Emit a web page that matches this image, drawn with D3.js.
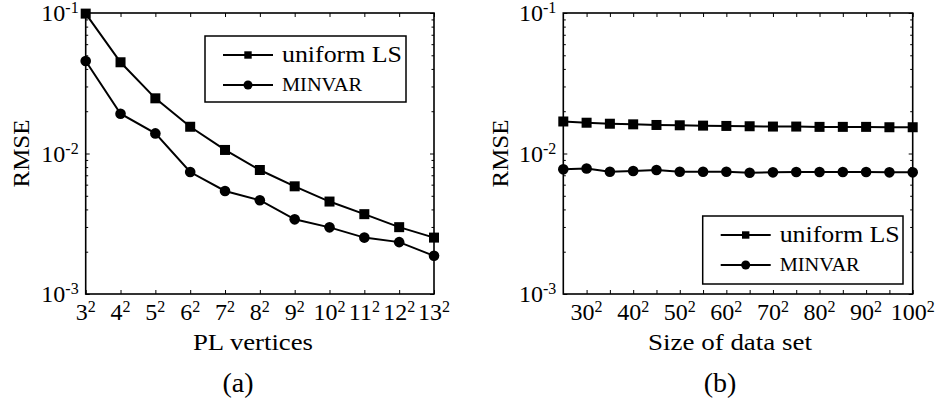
<!DOCTYPE html>
<html>
<head>
<meta charset="utf-8">
<script src="https://cdnjs.cloudflare.com/ajax/libs/d3/7.8.5/d3.min.js"></script>
<style>
    body { margin: 0; background: #fff; }
</style>
</head>
<body>
<svg id="chart" width="946" height="409" font-family="'Liberation Serif', 'DejaVu Serif', serif"></svg>
<script>
// panel (a): RMSE against number of PL vertices (n^2)
var verticesN = [3, 4, 5, 6, 7, 8, 9, 10, 11, 12, 13];
var verticesUniformLS = [0.099, 0.0446, 0.0247, 0.0155, 0.0106, 0.00763, 0.00584, 0.00455, 0.0037, 0.00299, 0.00252];
var verticesMinvar = [0.0455, 0.0192, 0.0139, 0.00738, 0.00541, 0.00465, 0.0034, 0.00298, 0.00252, 0.00234, 0.00187];

// panel (b): RMSE against size of data set (n^2)
var sizeN = [25, 30, 35, 40, 45, 50, 55, 60, 65, 70, 75, 80, 85, 90, 95, 100];
var sizeUniformLS = [0.0169, 0.01656, 0.01629, 0.01613, 0.01596, 0.01588, 0.01579, 0.01571, 0.01563, 0.01555, 0.01555, 0.01547, 0.01547, 0.01547, 0.01538, 0.01538];
var sizeMinvar = [0.00771, 0.00783, 0.00742, 0.0075, 0.00763, 0.00742, 0.00742, 0.00742, 0.0073, 0.00734, 0.00738, 0.00738, 0.00738, 0.00738, 0.00734, 0.00734];

var yDecades = [-3, -2, -1];
var verticesTicks = [3, 4, 5, 6, 7, 8, 9, 10, 11, 12, 13];
var verticesTickLabels = ["3", "4", "5", "6", "7", "8", "9", "10", "11", "12", "13"];
var sizeTicks = [30, 35, 40, 45, 50, 55, 60, 65, 70, 75, 80, 85, 90, 95, 100];
var sizeTickLabels = [30, 40, 50, 60, 70, 80, 90, 100];
var legendNames = ["uniform LS", "MINVAR"];

var svg = d3.select("#chart");

var minorTicks = [];
yDecades.forEach(function(e) {
    if (e == -1) return;
    for (var k = 2; k <= 9; k++) minorTicks.push(k * Math.pow(10, e));
});

function supText(sel, base, sup) {
    sel.append("tspan").text(base);
    sel.append("tspan").attr("dy", -8).attr("font-size", 16).text(sup);
}

function drawPanel(p) {
    var x = d3.scaleLinear().domain(p.xDomain).range([p.left, p.right]);
    var y = d3.scaleLog().domain([1e-3, 1e-1]).range([p.bottom, p.top]);
    var g = svg.append("g");

    // ticks on all four sides, pointing inward
    g.append("g").attr("transform", "translate(0," + p.bottom + ")")
        .call(d3.axisBottom(x).tickValues(p.xTicks).tickSize(-4).tickFormat(""));
    g.append("g").attr("transform", "translate(0," + p.top + ")")
        .call(d3.axisTop(x).tickValues(p.xTicks).tickSize(-4).tickFormat(""));
    g.append("g").attr("transform", "translate(" + p.left + ",0)")
        .call(d3.axisLeft(y).tickValues(yDecades.map(function(e) { return Math.pow(10, e); })).tickSize(-4).tickFormat(""));
    g.append("g").attr("transform", "translate(" + p.right + ",0)")
        .call(d3.axisRight(y).tickValues(yDecades.map(function(e) { return Math.pow(10, e); })).tickSize(-4).tickFormat(""));
    g.append("g").attr("transform", "translate(" + p.left + ",0)")
        .call(d3.axisLeft(y).tickValues(minorTicks).tickSize(-2.5).tickFormat(""));
    g.append("g").attr("transform", "translate(" + p.right + ",0)")
        .call(d3.axisRight(y).tickValues(minorTicks).tickSize(-2.5).tickFormat(""));
    g.selectAll(".domain").remove();
    g.selectAll(".tick line").attr("stroke", "#000").attr("stroke-width", 1);

    g.append("rect")
        .attr("x", p.left).attr("y", p.top)
        .attr("width", p.right - p.left).attr("height", p.bottom - p.top)
        .attr("fill", "none").attr("stroke", "#000").attr("stroke-width", 1.6);

    // y tick labels 10^e
    yDecades.forEach(function(e) {
        var t = g.append("text")
            .attr("x", p.left - 7).attr("y", y(Math.pow(10, e)) + 8)
            .attr("text-anchor", "end").attr("font-size", 24);
        supText(t, "10", "" + e);
    });

    // x tick labels n^2
    p.xLabels.forEach(function(d) {
        var t = g.append("text")
            .attr("x", x(d.v)).attr("y", p.bottom + 26)
            .attr("text-anchor", "middle").attr("font-size", 24);
        supText(t, d.s, "2");
    });

    g.append("text")
        .attr("transform", "translate(" + p.yLabelX + "," + ((p.top + p.bottom) / 2) + ") rotate(-90)")
        .attr("text-anchor", "middle").attr("font-size", 24)
        .attr("textLength", 68).attr("lengthAdjust", "spacingAndGlyphs").text("RMSE");
    g.append("text")
        .attr("x", p.xLabelX).attr("y", 350)
        .attr("text-anchor", "middle").attr("font-size", 24)
        .attr("textLength", p.xLabelLen).attr("lengthAdjust", "spacingAndGlyphs").text(p.xLabel);
    g.append("text")
        .attr("x", p.capX).attr("y", 392)
        .attr("text-anchor", "middle").attr("font-size", 28).text(p.caption);

    var line = d3.line()
        .x(function(d) { return x(d[0]); })
        .y(function(d) { return y(d[1]); });

    var sq = d3.zip(p.xs, p.uniform);
    var ci = d3.zip(p.xs, p.minvar);

    g.append("path").datum(sq).attr("d", line)
        .attr("fill", "none").attr("stroke", "#000").attr("stroke-width", 2);
    g.append("path").datum(ci).attr("d", line)
        .attr("fill", "none").attr("stroke", "#000").attr("stroke-width", 2);

    g.selectAll(".sq").data(sq).enter().append("rect")
        .attr("x", function(d) { return x(d[0]) - 5; })
        .attr("y", function(d) { return y(d[1]) - 5; })
        .attr("width", 10).attr("height", 10).attr("fill", "#000");
    g.selectAll(".ci").data(ci).enter().append("circle")
        .attr("cx", function(d) { return x(d[0]); })
        .attr("cy", function(d) { return y(d[1]); })
        .attr("r", 5.3).attr("fill", "#000");

    // legend
    var L = p.legend;
    g.append("rect")
        .attr("x", L.x).attr("y", L.y).attr("width", L.w).attr("height", L.h)
        .attr("fill", "#fff").attr("stroke", "#000").attr("stroke-width", 1.5);
    legendNames.forEach(function(name, i) {
        var cy = L.y + 19 + i * 30;
        g.append("line")
            .attr("x1", L.x + 18).attr("x2", L.x + 68)
            .attr("y1", cy).attr("y2", cy)
            .attr("stroke", "#000").attr("stroke-width", 2);
        if (i == 0) {
            g.append("rect").attr("x", L.x + 43 - 3.7).attr("y", cy - 3.7)
                .attr("width", 7.4).attr("height", 7.4).attr("fill", "#000");
            g.append("text").attr("x", L.x + 77).attr("y", cy + 7)
                .attr("font-size", 24).attr("textLength", 120).attr("lengthAdjust", "spacingAndGlyphs").text(name);
        } else {
            g.append("circle").attr("cx", L.x + 43).attr("cy", cy).attr("r", 4.5).attr("fill", "#000");
            g.append("text").attr("x", L.x + 77).attr("y", cy + 6)
                .attr("font-size", 18).attr("textLength", 80).attr("lengthAdjust", "spacingAndGlyphs").text(name);
        }
    });
}

drawPanel({
    left: 85.7, right: 434, top: 13, bottom: 294,
    xDomain: [3, 13], xTicks: verticesTicks,
    xLabels: verticesTicks.map(function(v, i) { return {v: v, s: verticesTickLabels[i]}; }),
    xs: verticesN, uniform: verticesUniformLS, minvar: verticesMinvar,
    yLabelX: 29, xLabelX: 253, xLabel: "PL vertices", xLabelLen: 120, capX: 238, caption: "(a)",
    legend: {x: 205, y: 36, w: 201, h: 66}
});

drawPanel({
    left: 563.3, right: 912.7, top: 13, bottom: 294,
    xDomain: [25, 100], xTicks: sizeTicks,
    xLabels: sizeTickLabels.map(function(v) { return {v: v, s: "" + v}; }),
    xs: sizeN, uniform: sizeUniformLS, minvar: sizeMinvar,
    yLabelX: 508, xLabelX: 730, xLabel: "Size of data set", xLabelLen: 164, capX: 720, caption: "(b)",
    legend: {x: 702.7, y: 216, w: 200.3, h: 68}
});
</script>
</body>
</html>
